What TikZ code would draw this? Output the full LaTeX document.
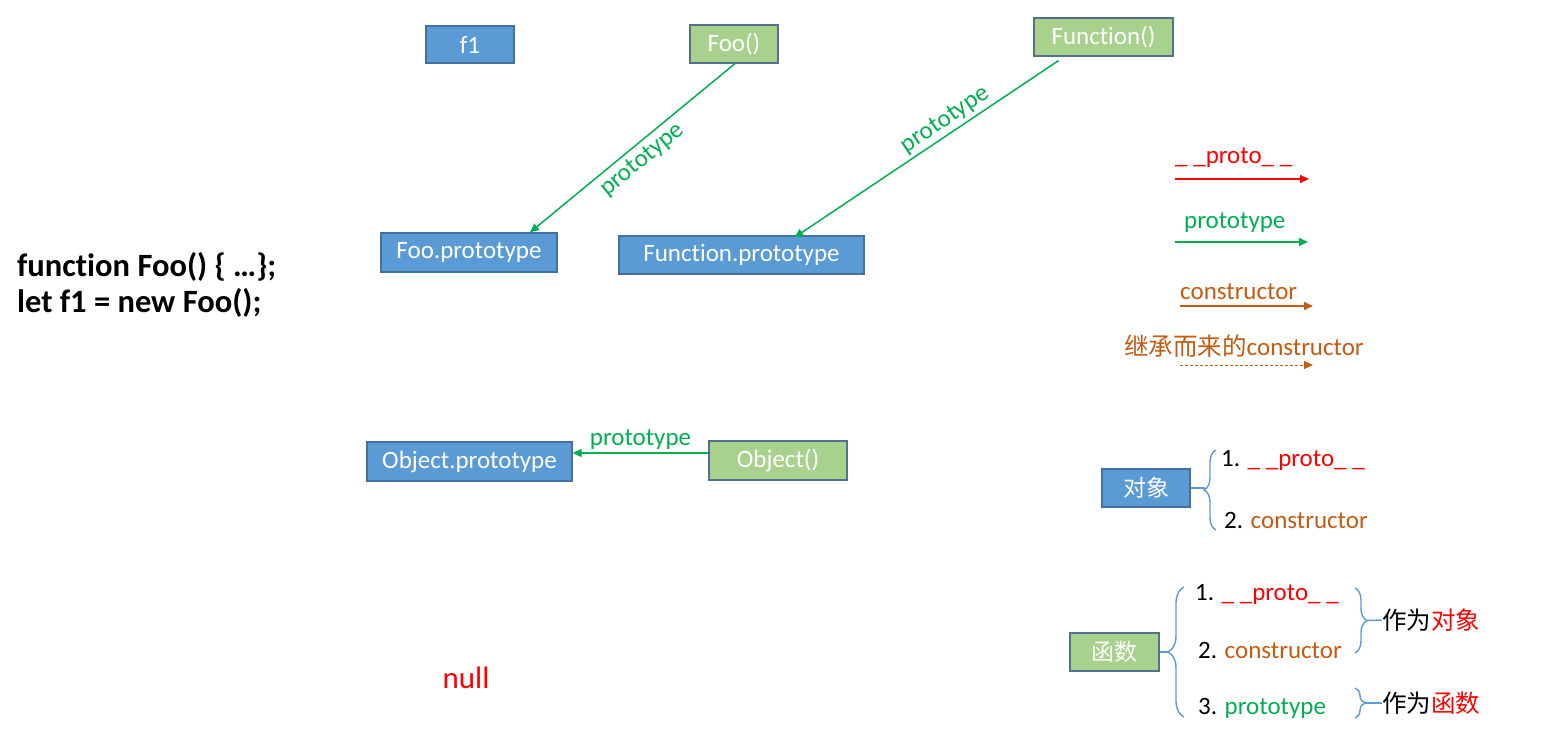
\documentclass[tikz,border=0pt]{standalone}
\usepackage{fontspec}
\setmainfont{Carlito}[Ligatures=NoCommon]
\newfontfamily\cjk{Noto Sans CJK SC}
\usetikzlibrary{arrows.meta,decorations.pathreplacing}
\definecolor{bluefill}{HTML}{5B9BD5}
\definecolor{blueline}{HTML}{41719C}
\definecolor{greenfill}{HTML}{A9D18E}
\definecolor{greenline}{HTML}{52708F}
\definecolor{protogreen}{HTML}{00B050}
\definecolor{protored}{HTML}{FF0000}
\definecolor{ctororange}{HTML}{C55A11}
\definecolor{bracecol}{HTML}{5B9BD5}
\tikzset{
  bluebox/.style={draw=blueline, fill=bluefill, line width=1.2pt, text=white, inner sep=0pt, font=\fontsize{25}{29}\selectfont},
  greenbox/.style={draw=greenline, fill=greenfill, line width=1.2pt, text=white, inner sep=0pt, font=\fontsize{25}{29}\selectfont},
  arr/.style={line width=1.5pt, -{Triangle[length=9pt,width=8pt]}},
  lbl/.style={font=\fontsize{25}{29}\selectfont, inner sep=2pt},
  brc/.style={draw=bracecol, line width=1.4pt, decorate},
  stub/.style={draw=bracecol, line width=1.4pt},
  cjklbl/.style={anchor=west, inner sep=0pt, font=\cjk\fontsize{24.5}{28}\selectfont},
}
\begin{document}
\begin{tikzpicture}[x=1pt,y=-1pt]
\useasboundingbox (0,0) rectangle (1543,732);
% boxes
\node[bluebox, minimum width=88pt, minimum height=37pt] (f1) at (470,44.5) {f1};
\node[greenbox, minimum width=88pt, minimum height=38pt] (foo) at (734,44) {Foo()};
\node[greenbox, minimum width=139pt, minimum height=38pt] (fn) at (1103.5,37) {Function()};
\node[bluebox, minimum width=176pt, minimum height=39pt] (fp) at (469,252.5) {Foo.prototype};
\node[bluebox, minimum width=245pt, minimum height=38pt] (fnp) at (741.5,255) {Function.prototype};
\node[bluebox, minimum width=205pt, minimum height=39pt] (op) at (469.5,461.5) {Object.prototype};
\node[greenbox, minimum width=138pt, minimum height=39pt] (obj) at (778,460.5) {Object()};
\node[bluebox, minimum width=88pt, minimum height=38pt, font=\cjk\fontsize{23}{27}\selectfont] (dx) at (1146,488) {对象};
\node[greenbox, minimum width=89pt, minimum height=38pt, font=\cjk\fontsize{23}{27}\selectfont] (hs) at (1114.5,652) {函数};
% code
\node[anchor=west, align=left, font=\bfseries\fontsize{32.5}{36}\selectfont, inner sep=0pt] (code) at (17,285) {function Foo() \{ …\};\\let f1 = new Foo();};
% null
\node[text=protored, font=\fontsize{31}{36}\selectfont] (null) at (466,678) {null};
% prototype arrows
\draw[arr, protogreen] ([xshift=1pt]foo.south) -- node[sloped, below, lbl, text=protogreen, pos=0.5, yshift=-3pt] {prototype} ([xshift=61pt]fp.north);
\draw[arr, protogreen] ([xshift=-45pt,yshift=-4pt]fn.south) -- node[sloped, above, lbl, text=protogreen, pos=0.40, yshift=1pt] {prototype} ([xshift=53pt,yshift=-2pt]fnp.north);
\draw[arr, protogreen] ([yshift=7.5pt]obj.west) -- node[above, lbl, text=protogreen, yshift=1pt] {prototype} ([yshift=8.5pt]op.east);
% legend
\node[anchor=west, lbl, inner sep=0pt, text=protored] (lg1) at (1175,158) {\_ \_proto\_ \_};
\coordinate (lg1a) at (1175,179); \coordinate (lg1b) at (1309,179);
\draw[arr, protored] (lg1a) -- (lg1b);
\node[anchor=west, lbl, inner sep=0pt, text=protogreen] (lg2) at (1184,223) {prototype};
\coordinate (lg2a) at (1175,242); \coordinate (lg2b) at (1308,242);
\draw[arr, protogreen] (lg2a) -- (lg2b);
\node[anchor=west, lbl, inner sep=0pt, text=ctororange] (lg3) at (1180,292) {constructor};
\coordinate (lg3a) at (1180,306); \coordinate (lg3b) at (1313,306);
\draw[arr, ctororange] (lg3a) -- (lg3b);
\node[anchor=west, lbl, inner sep=0pt, text=ctororange] (lg4) at (1124,346) {{\cjk\fontsize{24.5}{28}\selectfont 继承而来的}constructor};
\coordinate (lg4a) at (1180,365); \coordinate (lg4b) at (1313,365);
\draw[arr, ctororange, line width=1pt, dash pattern=on 3pt off 2pt] (lg4a) -- (lg4b);
% object braces
\draw[brc, decoration={brace, amplitude=12pt}] (1216,530) -- (1216,450);
\draw[stub] (dx.east) -- (1205,488);
\node[anchor=west, lbl, inner sep=0pt] (o1) at (1221,460) {1. \textcolor{protored}{\_ \_proto\_ \_}};
\node[anchor=west, lbl, inner sep=0pt] (o2) at (1224,520) {2. \textcolor{ctororange}{constructor}};
% function braces
\draw[brc, decoration={brace, amplitude=16pt}] (1184,717) -- (1184,587);
\draw[stub] (hs.east) -- (1168,652);
\node[anchor=west, lbl, inner sep=0pt] (h1) at (1195,594) {1. \textcolor{protored}{\_ \_proto\_ \_}};
\node[anchor=west, lbl, inner sep=0pt] (h2) at (1198,650) {2. \textcolor{ctororange}{constructor}};
\node[anchor=west, lbl, inner sep=0pt] (h3) at (1198,708) {3. \textcolor{protogreen}{prototype}};
\draw[brc, decoration={brace, amplitude=12pt}] (1355,588) -- (1355,653);
\draw[brc, decoration={brace, amplitude=10pt}] (1355,688) -- (1355,718);
\node[cjklbl] (t1) at (1382,620) {作为\textcolor{protored}{对象}};
\node[cjklbl] (t2) at (1382,703) {作为\textcolor{protored}{函数}};
\draw[stub] (1366,620.5) -- (t1.west);
\draw[stub] (1364,703) -- (t2.west);
\end{tikzpicture}
\end{document}
